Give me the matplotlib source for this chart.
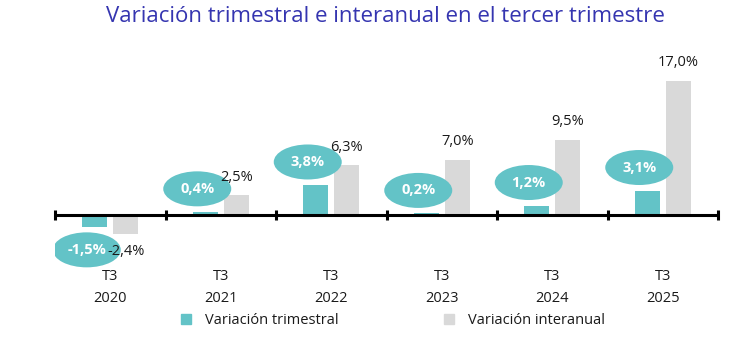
import matplotlib
matplotlib.use("Agg")
import matplotlib.pyplot as plt
from matplotlib.patches import Ellipse
from matplotlib.lines import Line2D
import numpy as np

years = ["2020", "2021", "2022", "2023", "2024", "2025"]
quarter = "T3"
trimestral = [-1.5, 0.4, 3.8, 0.2, 1.2, 3.1]
interanual = [-2.4, 2.5, 6.3, 7.0, 9.5, 17.0]
series_names = ["Variación trimestral", "Variación interanual"]
title = "Variación trimestral e interanual en el tercer trimestre"

TEAL = "#63C3C7"
GRAY = "#D9D9D9"
TITLE_C = "#3535B0"

plt.rcParams['font.family'] = ['Open Sans', 'DejaVu Sans']

W, H = 750, 356
fig = plt.figure(figsize=(W/100, H/100), dpi=100)
ax_l, ax_r, ax_t, ax_b = 55, 718, 40, 300
ax = fig.add_axes([ax_l/W, (H-ax_b)/H, (ax_r-ax_l)/W, (ax_b-ax_t)/H])

px_per_unit = 7.9
zero_px = 215
ax.set_xlim(-0.5, len(years)-0.5)
ax.set_ylim(-(ax_b-zero_px)/px_per_unit, (zero_px-ax_t)/px_per_unit)

x = np.arange(len(years))
cat_px = (ax_r-ax_l)/len(years)
bw = 25/cat_px
off = 15.5/cat_px
ax.bar(x-off, trimestral, width=bw, color=TEAL, zorder=2)
ax.bar(x+off, interanual, width=bw, color=GRAY, zorder=2)

# axis line and ticks
ax.axhline(0, color="black", lw=2.2, zorder=3)
bounds = np.arange(len(years)+1)-0.5
tk = 5/px_per_unit
ax.vlines(bounds, -tk, tk, color="black", lw=2.2, zorder=3, clip_on=False)

# ellipse labels for trimestral
ew = 68/cat_px
eh = 35/px_per_unit
for xi, v in zip(x, trimestral):
    cx = xi - off - 8/cat_px
    cy = v + (np.sign(v) if v != 0 else 1)*23/px_per_unit
    ax.add_patch(Ellipse((cx, cy), ew, eh, color=TEAL, zorder=4, lw=0))
    ax.text(cx, cy, f"{v:.1f}%".replace(".", ","), color="white", fontsize=10.5,
            fontweight="bold", ha="center", va="center", zorder=5)

# labels for interanual
for xi, v in zip(x, interanual):
    cy = v + np.sign(v)*18/px_per_unit
    ax.text(xi+off, cy, f"{v:.1f}%".replace(".", ","), color="#1a1a1a", fontsize=10.5,
            ha="center", va="center", zorder=5)

# category labels
for xi, yr in zip(x, years):
    ax.text(xi, (ax_b-277)/(ax_b-ax_t), quarter, transform=ax.get_xaxis_transform(),
            ha="center", va="center", fontsize=10.5, color="#1a1a1a")
    ax.text(xi, (ax_b-298)/(ax_b-ax_t), yr, transform=ax.get_xaxis_transform(),
            ha="center", va="center", fontsize=10.5, color="#1a1a1a")

ax.set_xticks([])
ax.set_yticks([])
for s in ax.spines.values():
    s.set_visible(False)

handles = [Line2D([], [], marker="s", ls="", color=TEAL, markersize=7.5),
           Line2D([], [], marker="s", ls="", color=GRAY, markersize=7.5)]
fig.legend(handles, series_names, loc="center", bbox_to_anchor=(392/W, 1-321/H),
           ncol=2, frameon=False, fontsize=10.5, handlelength=1.0, handletextpad=0.8,
           columnspacing=7.05, labelcolor="#1a1a1a")

fig.text(385/W, 1-16/H, title, ha="center", va="center", fontsize=16, color=TITLE_C)

fig.savefig("out.png", dpi=100)
